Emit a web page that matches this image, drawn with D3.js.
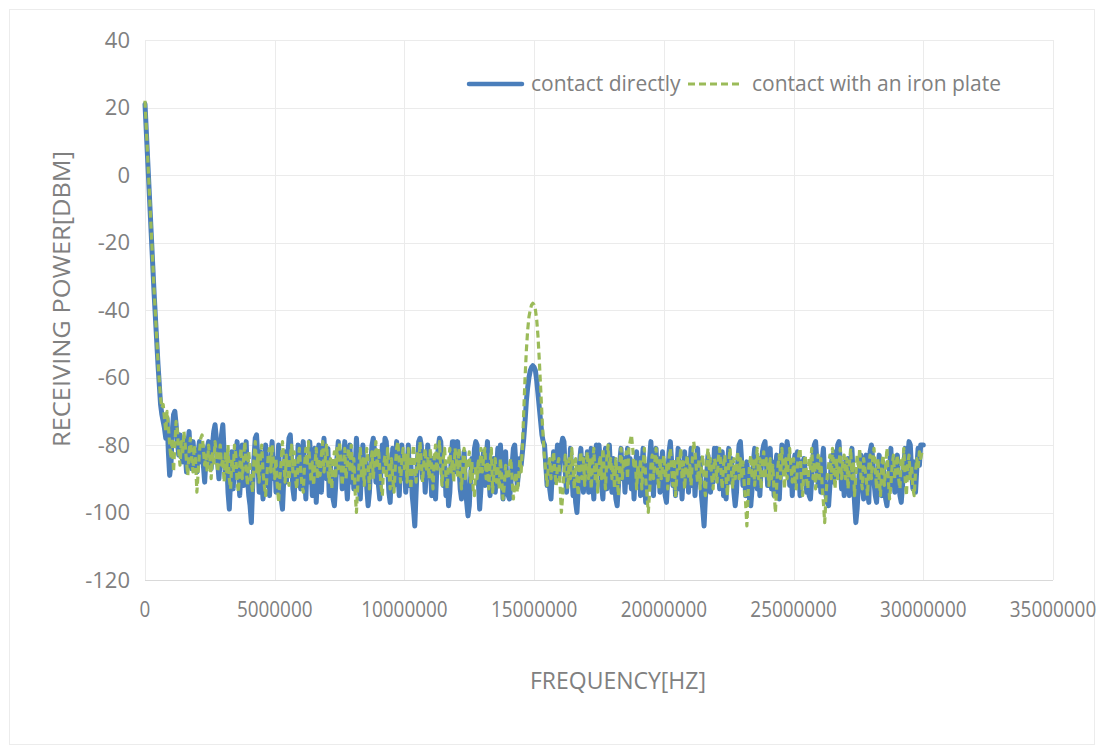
<!DOCTYPE html>
<html>
<head>
<meta charset="utf-8">
<script src="https://cdn.jsdelivr.net/npm/d3@7"></script>
<style>
  body { margin: 0; background: #fff; }
  text { font-family: "Open Sans", "DejaVu Sans", sans-serif; fill: #808080; }
</style>
</head>
<body>
<svg width="1105" height="755"></svg>
<script>
// Frequency grid: one sample every 50 kHz, from 0 to 30 MHz
const freqStep = 50000;

// Received power [dBm], contact directly (one row = 1 MHz)
const directly = [
  21, 13, 5, -3, -11, -19, -27, -35, -42, -49, -56, -62, -68, -71, -73, -75, -78, -72, -82, -89,
  -86, -76, -71, -70, -74, -79, -83, -77, -80, -85, -78, -82, -88, -80, -76, -84, -87, -79, -83, -86,
  -88, -82, -79, -85, -80, -86, -91, -84, -81, -79, -83, -87, -80, -76, -74, -78, -85, -90, -84, -77,
  -74, -82, -90, -84, -94, -99, -90, -82, -93, -85, -88, -79, -86, -95, -88, -80, -92, -86, -79, -90,
  -95, -98, -103, -92, -84, -78, -77, -84, -94, -82, -90, -96, -86, -80, -92, -85, -95, -84, -79, -90,
  -84, -94, -88, -80, -92, -96, -99, -90, -82, -91, -84, -78, -77, -84, -93, -96, -86, -92, -80, -89,
  -93, -84, -79, -88, -96, -85, -91, -79, -86, -95, -88, -81, -97, -89, -80, -87, -94, -84, -78, -86,
  -90, -81, -95, -86, -91, -96, -98, -92, -84, -79, -88, -82, -93, -85, -79, -90, -96, -87, -80, -91,
  -84, -93, -87, -78, -85, -92, -96, -86, -80, -90, -85, -93, -98, -94, -86, -80, -78, -82, -91, -84,
  -92, -96, -86, -80, -87, -78, -79, -86, -94, -97, -88, -81, -92, -85, -79, -88, -95, -86, -80, -90,
  -84, -94, -88, -80, -92, -86, -95, -99, -104, -94, -85, -79, -78, -80, -90, -84, -94, -87, -80, -88,
  -86, -95, -84, -91, -96, -87, -81, -78, -79, -86, -92, -85, -95, -88, -98, -94, -85, -79, -79, -88,
  -82, -79, -86, -93, -96, -87, -82, -92, -97, -101, -98, -90, -84, -88, -81, -79, -80, -91, -99, -93,
  -86, -82, -92, -85, -79, -88, -95, -86, -93, -84, -94, -88, -81, -92, -80, -86, -96, -89, -82, -92,
  -95, -96, -92, -86, -81, -80, -86, -92, -88, -84, -86, -82, -78, -73, -67, -63, -60, -58, -57, -56.5,
  -57, -58, -61, -65, -69, -73, -77, -79, -80, -86, -92, -86, -93, -96, -88, -82, -91, -85, -80, -90,
  -84, -80, -78, -79, -88, -94, -85, -91, -81, -88, -95, -90, -97, -100, -93, -85, -81, -88, -94, -84,
  -91, -82, -94, -87, -81, -90, -96, -86, -80, -88, -80, -85, -92, -96, -87, -81, -93, -86, -80, -89,
  -94, -84, -91, -96, -98, -92, -85, -81, -90, -84, -94, -87, -81, -91, -84, -93, -86, -96, -88, -82,
  -91, -84, -95, -87, -81, -90, -97, -86, -93, -84, -79, -87, -95, -86, -81, -91, -84, -94, -87, -82,
  -90, -95, -97, -90, -82, -79, -85, -92, -86, -95, -88, -81, -93, -85, -96, -88, -82, -91, -84, -94,
  -87, -81, -92, -84, -95, -88, -81, -91, -84, -95, -99, -104, -96, -89, -83, -87, -94, -85, -91, -81,
  -87, -81, -85, -93, -87, -82, -95, -86, -96, -86, -81, -91, -84, -88, -94, -98, -94, -85, -80, -79,
  -85, -92, -86, -95, -85, -90, -96, -98, -93, -85, -81, -88, -93, -84, -95, -87, -82, -80, -79, -85,
  -92, -87, -81, -93, -85, -95, -87, -83, -91, -96, -87, -80, -82, -88, -84, -79, -82, -92, -86, -95,
  -87, -83, -92, -82, -88, -95, -85, -91, -84, -88, -94, -90, -95, -96, -90, -84, -80, -79, -85, -92,
  -86, -94, -85, -81, -90, -95, -97, -98, -92, -86, -83, -91, -82, -88, -80, -79, -85, -93, -87, -95,
  -85, -92, -84, -95, -87, -81, -90, -97, -103, -99, -92, -86, -83, -91, -96, -87, -83, -93, -97, -82,
  -80, -84, -91, -95, -97, -90, -83, -88, -95, -85, -91, -96, -98, -93, -87, -81, -92, -84, -94, -87,
  -83, -91, -95, -97, -92, -86, -81, -90, -84, -79, -80, -88, -93, -85, -94, -87, -81, -86, -80, -80,
  -80
];

// Received power [dBm], contact with an iron plate
const ironPlate = [
  22, 14, 6, -2, -10, -18, -26, -34, -41, -48, -55, -61, -66, -69, -68, -72, -76, -70, -74, -80,
  -84, -78, -88, -80, -73, -76, -82, -86, -79, -83, -76, -80, -85, -89, -82, -78, -84, -88, -80, -85,
  -94, -88, -82, -78, -77, -81, -86, -83, -88, -80, -84, -90, -82, -86, -79, -83, -88, -84, -80, -86,
  -84, -91, -82, -88, -80, -90, -93, -84, -88, -80, -83, -91, -94, -86, -81, -90, -84, -79, -87, -92,
  -82, -87, -91, -94, -84, -79, -88, -83, -91, -84, -80, -88, -92, -95, -89, -83, -81, -88, -80, -85,
  -90, -84, -92, -97, -90, -85, -79, -85, -91, -83, -87, -92, -84, -80, -88, -82, -90, -93, -85, -81,
  -87, -92, -94, -86, -81, -86, -79, -85, -91, -85, -92, -86, -81, -90, -84, -89, -83, -79, -88, -84,
  -80, -87, -91, -84, -93, -86, -82, -90, -81, -87, -79, -85, -92, -86, -81, -90, -85, -81, -88, -80,
  -90, -84, -94, -100, -92, -86, -81, -90, -84, -92, -86, -81, -85, -93, -86, -82, -90, -84, -79, -87,
  -81, -87, -92, -95, -86, -83, -90, -81, -87, -93, -84, -90, -94, -86, -81, -79, -85, -91, -85, -81,
  -87, -83, -91, -81, -87, -93, -84, -80, -88, -91, -82, -87, -79, -85, -91, -85, -81, -88, -84, -90,
  -81, -87, -93, -84, -80, -88, -84, -79, -87, -92, -84, -81, -89, -93, -85, -81, -88, -84, -91, -81,
  -84, -89, -81, -87, -93, -85, -81, -90, -84, -87, -82, -91, -85, -93, -95, -86, -90, -84, -88, -81,
  -88, -84, -81, -90, -85, -93, -86, -81, -94, -88, -84, -91, -86, -93, -84, -90, -96, -92, -86, -90,
  -90, -86, -84, -90, -96, -92, -88, -94, -90, -84, -88, -80, -70, -60, -52, -46, -42, -40, -38.5, -38,
  -38.5, -40, -43, -48, -55, -63, -71, -78, -84, -88, -92, -86, -84, -90, -86, -82, -88, -92, -86, -84,
  -92, -100, -95, -88, -83, -87, -93, -84, -90, -81, -87, -93, -84, -90, -95, -86, -82, -90, -84, -92,
  -86, -82, -90, -84, -93, -86, -81, -90, -85, -94, -86, -83, -90, -81, -87, -93, -84, -80, -87, -84,
  -90, -86, -93, -84, -90, -95, -86, -81, -90, -84, -87, -82, -90, -81, -79, -77, -81, -87, -84, -93,
  -86, -90, -84, -93, -86, -81, -90, -95, -100, -94, -86, -83, -90, -85, -81, -87, -93, -84, -90, -86,
  -83, -90, -86, -93, -84, -81, -87, -92, -84, -95, -89, -83, -87, -81, -90, -85, -93, -86, -83, -90,
  -86, -92, -84, -79, -82, -87, -91, -84, -93, -86, -83, -90, -95, -86, -81, -87, -84, -90, -93, -84,
  -86, -91, -84, -81, -87, -93, -86, -83, -90, -95, -86, -81, -87, -93, -84, -90, -86, -82, -90, -84,
  -90, -85, -92, -97, -104, -94, -86, -83, -90, -84, -92, -86, -81, -90, -84, -93, -86, -82, -90, -84,
  -86, -92, -84, -90, -86, -94, -100, -92, -86, -83, -90, -81, -87, -93, -84, -90, -85, -81, -87, -91,
  -84, -90, -93, -86, -83, -81, -90, -95, -86, -83, -90, -93, -84, -87, -81, -90, -85, -93, -86, -83,
  -90, -84, -92, -97, -103, -95, -89, -86, -83, -90, -81, -87, -93, -84, -90, -86, -81, -90, -85, -83,
  -90, -84, -93, -86, -81, -90, -85, -95, -89, -83, -87, -81, -90, -93, -84, -87, -90, -95, -86, -83,
  -90, -84, -81, -87, -93, -84, -90, -95, -86, -83, -92, -86, -81, -90, -96, -92, -86, -83, -90, -86,
  -83, -90, -93, -84, -87, -81, -90, -95, -86, -83, -90, -86, -93, -95, -88, -84, -87, -82, -84, -82,
  -82
];

// Axis ticks
const xTicks = [0, 5000000, 10000000, 15000000, 20000000, 25000000, 30000000, 35000000];
const yTicks = [-120, -100, -80, -60, -40, -20, 0, 20, 40];

const svg = d3.select("svg");
const plotLeft = 145, plotRight = 1053, plotTop = 40, plotBottom = 580;

// Light frame around the whole chart
svg.append("rect")
    .attr("x", 9.5).attr("y", 9.5)
    .attr("width", 1085).attr("height", 735)
    .attr("fill", "none")
    .attr("stroke", "#ececec");

const xScale = d3.scaleLinear().domain([0, 35000000]).range([plotLeft, plotRight]);
const yScale = d3.scaleLinear().domain([-120, 40]).range([plotBottom, plotTop]);

// Gridlines
svg.append("g")
  .selectAll("line")
  .data(yTicks)
  .enter()
  .append("line")
    .attr("x1", plotLeft).attr("x2", plotRight)
    .attr("y1", d => Math.round(yScale(d)) + 0.5)
    .attr("y2", d => Math.round(yScale(d)) + 0.5)
    .attr("stroke", d => d === -120 ? "#d9d9d9" : "#ebebeb");

svg.append("g")
  .selectAll("line")
  .data(xTicks)
  .enter()
  .append("line")
    .attr("y1", plotTop).attr("y2", plotBottom)
    .attr("x1", d => Math.round(xScale(d)) + 0.5)
    .attr("x2", d => Math.round(xScale(d)) + 0.5)
    .attr("stroke", "#ebebeb");

// Tick labels
svg.append("g")
  .selectAll("text")
  .data(yTicks)
  .enter()
  .append("text")
    .text(d => d)
    .attr("x", 130)
    .attr("y", d => yScale(d))
    .attr("dy", "0.35em")
    .style("text-anchor", "end")
    .style("font-size", "22px");

// x labels look condensed in the original, so squeeze them a bit
svg.append("g")
  .selectAll("text")
  .data(xTicks)
  .enter()
  .append("text")
    .text(d => d)
    .attr("x", d => xScale(d))
    .attr("y", 617)
    .attr("textLength", d => String(d).length * 10.8)
    .attr("lengthAdjust", "spacingAndGlyphs")
    .style("text-anchor", "middle")
    .style("font-size", "21px");

// Series lines
const line = d3.line()
    .x((d, i) => xScale(i * freqStep))
    .y(d => yScale(d));

svg.append("path")
    .datum(directly)
    .attr("d", line)
    .attr("fill", "none")
    .attr("stroke", "#4a7ebb")
    .attr("stroke-width", 5)
    .attr("stroke-linejoin", "round")
    .attr("stroke-linecap", "round");

svg.append("path")
    .datum(ironPlate)
    .attr("d", line)
    .attr("fill", "none")
    .attr("stroke", "#9bbb59")
    .attr("stroke-width", 3.2)
    .attr("stroke-dasharray", "7 4")
    .attr("stroke-linejoin", "round");

// Legend
svg.append("line")
    .attr("x1", 469).attr("x2", 522)
    .attr("y1", 84).attr("y2", 84)
    .attr("stroke", "#4a7ebb")
    .attr("stroke-width", 4.5)
    .attr("stroke-linecap", "round");
svg.append("text")
    .text("contact directly")
    .attr("x", 531).attr("y", 91)
    .style("font-size", "21px");

svg.append("line")
    .attr("x1", 688).attr("x2", 741)
    .attr("y1", 84).attr("y2", 84)
    .attr("stroke", "#9bbb59")
    .attr("stroke-width", 3)
    .attr("stroke-dasharray", "7 4");
svg.append("text")
    .text("contact with an iron plate")
    .attr("x", 752).attr("y", 91)
    .style("font-size", "21px");

// Axis titles
svg.append("text")
    .text("RECEIVING POWER[DBM]")
    .attr("x", -299)
    .attr("y", 62)
    .attr("dy", "0.35em")
    .attr("transform", "rotate(-90)")
    .attr("textLength", 296)
    .attr("lengthAdjust", "spacingAndGlyphs")
    .style("text-anchor", "middle")
    .style("font-size", "23px");

svg.append("text")
    .text("FREQUENCY[HZ]")
    .attr("x", 618)
    .attr("y", 681)
    .attr("dy", "0.35em")
    .attr("textLength", 176)
    .attr("lengthAdjust", "spacingAndGlyphs")
    .style("text-anchor", "middle")
    .style("font-size", "23px");
</script>
</body>
</html>
